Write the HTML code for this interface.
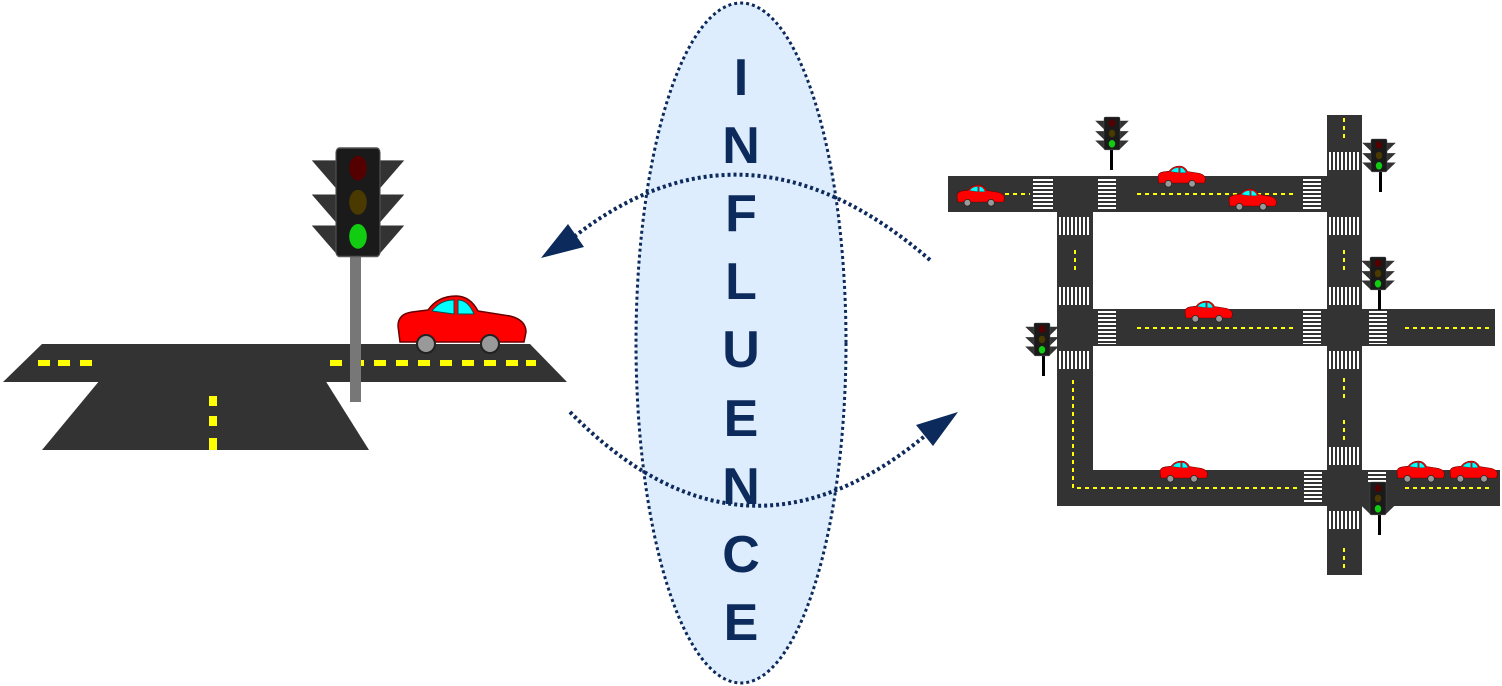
<!DOCTYPE html>
<html><head><style>body{margin:0;background:#fff}svg{display:block}</style></head><body>
<svg width="1502" height="686" viewBox="0 0 1502 686" xmlns="http://www.w3.org/2000/svg">
<defs>
<g id="car">
<path d="M0,30 Q0,18 14,16 L30,14 Q40,0 58,0 Q72,0 80,15 L112,20 Q128,24 128,36 L126,46 L2,46 Z" fill="#f00" stroke="#600" stroke-width="1.5"/>
<path d="M34,15 Q42,4 56,4 L56,18 Z M60,4 Q70,4 76,18 L60,18 Z" fill="#0ff" stroke="#055" stroke-width="1"/>
<circle cx="28" cy="48" r="9" fill="#999" stroke="#222" stroke-width="2"/><circle cx="92" cy="48" r="9" fill="#999" stroke="#222" stroke-width="2"/>
</g>
<g id="tl">
<polygon points="-22,8 0,8 0,26" fill="#333"/><polygon points="62,8 40,8 40,26" fill="#333"/>
<polygon points="-22,30 0,30 0,48" fill="#333"/><polygon points="62,30 40,30 40,48" fill="#333"/>
<polygon points="-22,50 0,50 0,68" fill="#333"/><polygon points="62,50 40,50 40,68" fill="#333"/>
<rect x="0" y="0" width="40" height="70" rx="3" fill="#1a1a1a" stroke="#555"/>
<circle cx="20" cy="13" r="8" fill="#500"/><circle cx="20" cy="35" r="8" fill="#4a3a00"/><circle cx="20" cy="57" r="8" fill="#1c1"/>
</g>
</defs>

<ellipse cx="741" cy="343" rx="105" ry="340" fill="#deedfd" stroke="#0d2a5c" stroke-width="3" stroke-dasharray="3 3"/>
<g font-family="Liberation Sans, sans-serif" font-weight="bold" font-size="52" fill="#0d2a5c" text-anchor="middle">
<text x="741" y="95">I</text><text x="741" y="163">N</text><text x="741" y="231">F</text><text x="741" y="299">L</text><text x="741" y="367">U</text><text x="741" y="436">E</text><text x="741" y="504">N</text><text x="741" y="572">C</text><text x="741" y="640">E</text>
</g>
<path d="M930,260 Q745,100 570,240" fill="none" stroke="#0d2a5c" stroke-width="4" stroke-dasharray="3 3"/>
<polygon points="541,258 568,224 584,247" fill="#0d2a5c"/>
<path d="M570,412 Q745,590 932,430" fill="none" stroke="#0d2a5c" stroke-width="4" stroke-dasharray="3 3"/>
<polygon points="958,412 916,425 933,446" fill="#0d2a5c"/>

<polygon points="42,344 530,344 567,382 3,382" fill="#333"/>
<polygon points="100,380 325,380 369,450 42,450" fill="#333"/>
<g fill="#ff0"><rect x="38" y="360" width="12" height="6"/><rect x="58" y="360" width="12" height="6"/><rect x="80" y="360" width="12" height="6"/>
<rect x="330" y="360" width="12" height="6"/><rect x="352" y="360" width="12" height="6"/><rect x="374" y="360" width="12" height="6"/><rect x="396" y="360" width="12" height="6"/><rect x="418" y="360" width="12" height="6"/><rect x="440" y="360" width="12" height="6"/><rect x="462" y="360" width="12" height="6"/><rect x="484" y="360" width="12" height="6"/><rect x="506" y="360" width="12" height="6"/><rect x="526" y="360" width="10" height="6"/>
<rect x="209" y="396" width="8" height="10"/><rect x="209" y="416" width="8" height="10"/><rect x="209" y="438" width="8" height="12"/></g>
<rect x="350" y="255" width="11" height="147" fill="#777"/>
<g transform="translate(336,148) scale(1.1,1.55)"><use href="#tl"/></g>
<use href="#car" x="398" y="296"/>

<g fill="#333">
<rect x="948" y="176" width="380" height="36"/>
<rect x="1327" y="115" width="35" height="460"/>
<rect x="1057" y="176" width="36" height="330"/>
<rect x="1057" y="309" width="438" height="37"/>
<rect x="1057" y="470" width="443" height="36"/>
</g>
<g stroke="#ff0" stroke-width="2" stroke-dasharray="4 4" fill="none">
<line x1="965" y1="194" x2="1030" y2="194"/><line x1="1137" y1="194" x2="1297" y2="194"/>
<line x1="1137" y1="328" x2="1297" y2="328"/><line x1="1405" y1="328" x2="1492" y2="328"/>
<polyline points="1073,380 1073,488 1300,488"/><line x1="1405" y1="488" x2="1492" y2="488"/>
<line x1="1075" y1="250" x2="1075" y2="272"/>
<line x1="1344" y1="118" x2="1344" y2="140"/><line x1="1344" y1="250" x2="1344" y2="272"/><line x1="1344" y1="378" x2="1344" y2="400"/><line x1="1344" y1="420" x2="1344" y2="442"/><line x1="1344" y1="548" x2="1344" y2="572"/>
</g>
<g stroke="#fff" stroke-width="1.5" stroke-dasharray="2 2" fill="none">
<line x1="1043" y1="179" x2="1043" y2="210" stroke-width="20"/>
<line x1="1107" y1="179" x2="1107" y2="210" stroke-width="18"/>
<line x1="1312" y1="179" x2="1312" y2="210" stroke-width="18"/>
<line x1="1107" y1="311" x2="1107" y2="344" stroke-width="18"/>
<line x1="1312" y1="311" x2="1312" y2="344" stroke-width="18"/>
<line x1="1378" y1="311" x2="1378" y2="344" stroke-width="18"/>
<line x1="1313" y1="472" x2="1313" y2="504" stroke-width="18"/>
<line x1="1377" y1="472" x2="1377" y2="484" stroke-width="18"/>
<line x1="1059" y1="226" x2="1091" y2="226" stroke-width="18"/>
<line x1="1059" y1="296" x2="1091" y2="296" stroke-width="18"/>
<line x1="1059" y1="360" x2="1091" y2="360" stroke-width="18"/>
<line x1="1329" y1="161" x2="1360" y2="161" stroke-width="18"/>
<line x1="1329" y1="226" x2="1360" y2="226" stroke-width="18"/>
<line x1="1329" y1="296" x2="1360" y2="296" stroke-width="18"/>
<line x1="1329" y1="360" x2="1360" y2="360" stroke-width="18"/>
<line x1="1329" y1="456" x2="1360" y2="456" stroke-width="18"/>
<line x1="1329" y1="520" x2="1360" y2="520" stroke-width="18"/>
</g>
<g transform="translate(957,185) scale(0.37)"><use href="#car"/></g>
<g transform="translate(1158,166) scale(0.37)"><use href="#car"/></g>
<g transform="translate(1229,189) scale(0.37)"><use href="#car"/></g>
<g transform="translate(1185,301) scale(0.37)"><use href="#car"/></g>
<g transform="translate(1160,461) scale(0.37)"><use href="#car"/></g>
<g transform="translate(1397,461) scale(0.37)"><use href="#car"/></g>
<g transform="translate(1450,461) scale(0.37)"><use href="#car"/></g>
<g fill="#000">
<rect x="1110" y="150" width="3" height="20"/><rect x="1379" y="172" width="3" height="20"/><rect x="1378" y="290" width="3" height="20"/><rect x="1042" y="356" width="3" height="20"/><rect x="1378" y="515" width="3" height="20"/>
</g>
<g transform="translate(1104,117) scale(0.4,0.47)"><use href="#tl"/></g>
<g transform="translate(1371,139) scale(0.4,0.47)"><use href="#tl"/></g>
<g transform="translate(1370,257) scale(0.4,0.47)"><use href="#tl"/></g>
<g transform="translate(1034,323) scale(0.4,0.47)"><use href="#tl"/></g>
<g transform="translate(1370,482) scale(0.4,0.47)"><use href="#tl"/></g>
</svg>
</body></html>
